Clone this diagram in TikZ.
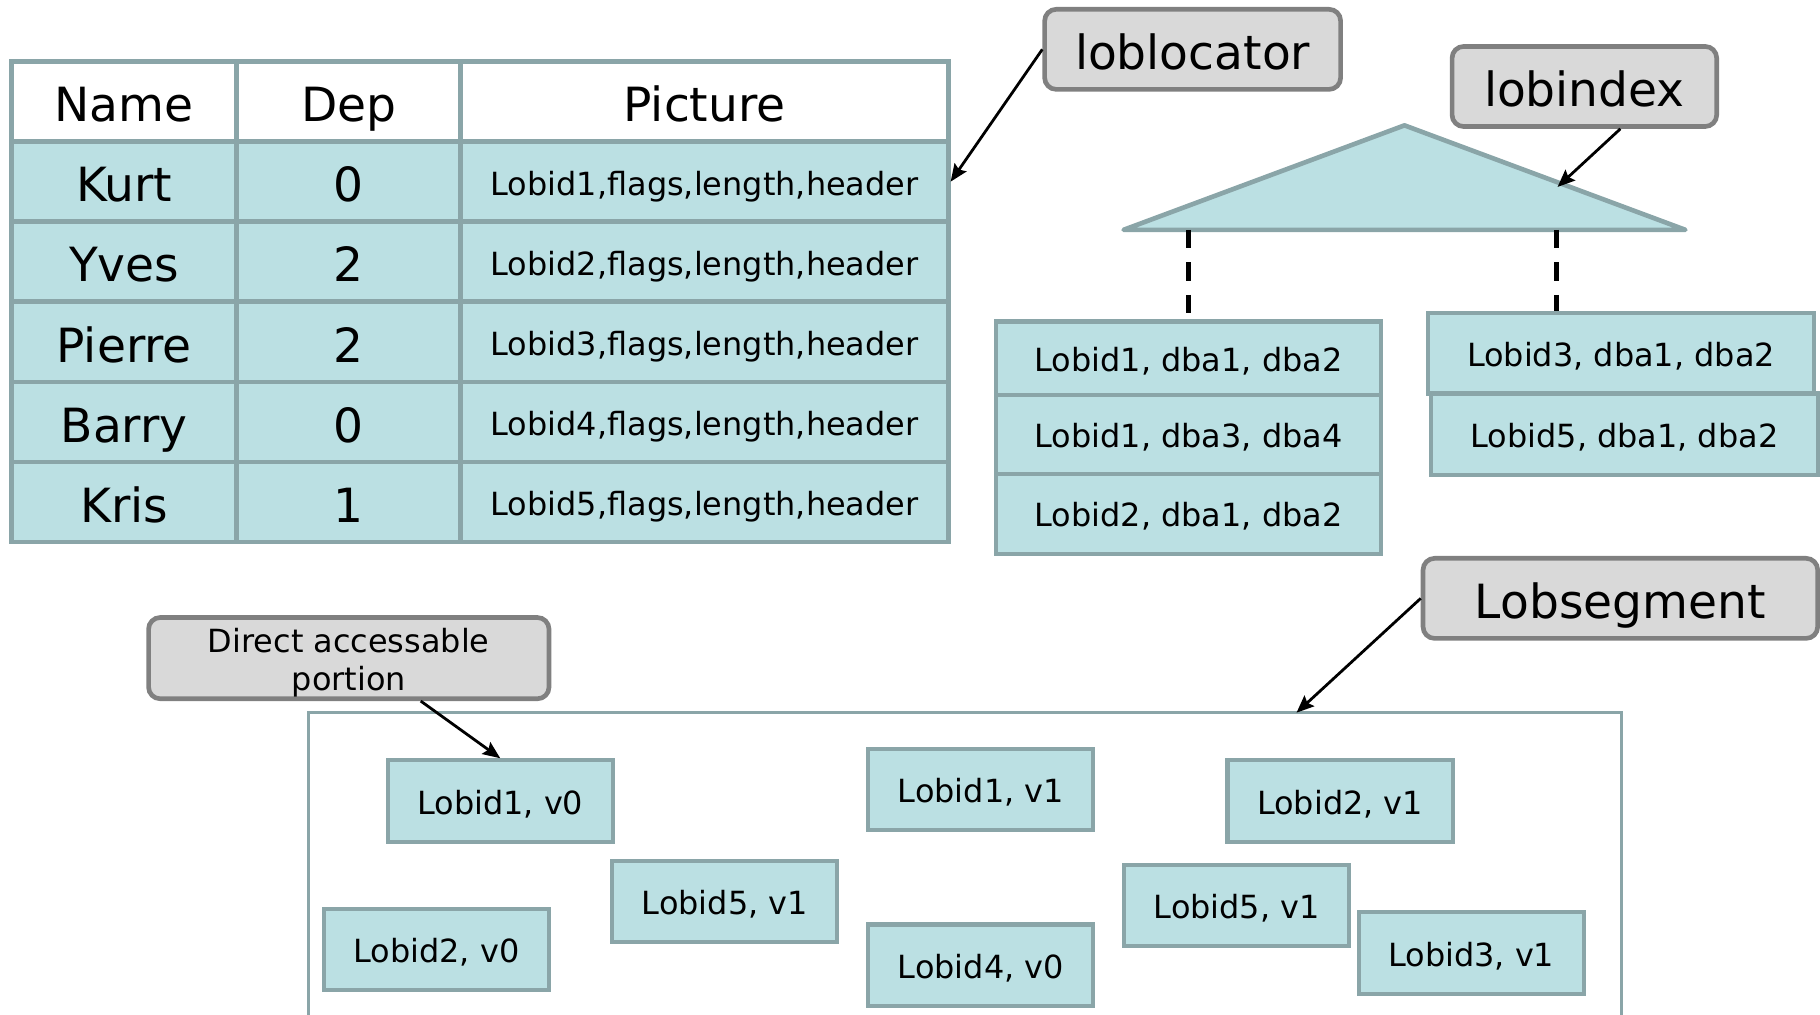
\documentclass[tikz,border=0pt]{standalone}
\usepackage{fontspec}
\setmainfont{DejaVu Sans}
\usetikzlibrary{arrows.meta,calc}
\definecolor{cellfill}{RGB}{187,224,227}
\definecolor{celledge}{RGB}{138,165,168}
\definecolor{notefill}{RGB}{217,217,217}
\definecolor{noteedge}{RGB}{128,128,128}

\begin{document}
\begin{tikzpicture}[x=0.5pt,y=-0.5pt,
  bigtext/.style={font=\fontsize{20.3pt}{24pt}\selectfont, text height=17.9pt, text depth=0.5pt},
  smalltext/.style={font=\fontsize{13.75pt}{16.5pt}\selectfont, text height=12pt, text depth=0.5pt},
  cell/.style={draw=celledge, line width=2pt, fill=cellfill, inner sep=0pt, minimum height=34.5pt},
  headcell/.style={cell, fill=white},
  record/.style={draw=celledge, line width=1.75pt, fill=cellfill, inner sep=0pt, smalltext},
  version/.style={record, minimum width=97pt, minimum height=35pt},
  note/.style={draw=noteedge, line width=2pt, fill=notefill, rounded corners=5pt, inner sep=0pt},
  pointer/.style={line width=1.2pt, -{Stealth[length=7.5pt,width=6.2pt,inset=1.2pt]}},
  tap/.style={line width=2pt, dash pattern=on 8pt off 6pt},
]
\useasboundingbox (0,0) rectangle (1568,874);

% --- table of names, dependants and locators
\node[headcell, bigtext, minimum width=97pt]   (hname) at (107,87.5)   {Name};
\node[headcell, bigtext, minimum width=96.5pt] (hdep)  at (300.5,87.5) {Dep};
\node[headcell, bigtext, minimum width=210pt]  (hpic)  at (607,87.5)   {Picture};
\foreach \who/\dep [count=\i] in {Kurt/0, Yves/2, Pierre/2, Barry/0, Kris/1} {
  \pgfmathsetmacro\yy{87.5+69*\i}
  \node[cell, bigtext, minimum width=97pt]   (name\i) at (107,\yy)   {\who};
  \node[cell, bigtext, minimum width=96.5pt] (dep\i)  at (300.5,\yy) {\dep};
  \node[cell, smalltext, minimum width=210pt] (pic\i) at (607,\yy)   {Lobid\i,flags,length,header};
}

% --- index tree
\coordinate (apex)  at (1210,108);
\coordinate (baseL) at (968,198);
\coordinate (baseR) at (1452,198);
\draw[draw=celledge, line width=2pt, line join=round, fill=cellfill] (apex) -- (baseR) -- (baseL) -- cycle;
\coordinate (tapL) at ($(baseL)!0.1157!(baseR)$);
\coordinate (tapR) at ($(baseL)!0.7707!(baseR)$);
\coordinate (idxhit) at ($(apex)!0.545!(baseR)+(0,4)$);

% --- index leaf entries
\node[record, minimum width=166pt, minimum height=31.5pt] (ls1) at (1024,308.5) {Lobid1, dba1, dba2};
\node[record, minimum width=166pt, minimum height=34pt]   (ls2) at (1024,374)   {Lobid1, dba3, dba4};
\node[record, minimum width=166pt, minimum height=34.5pt] (ls3) at (1024,442.5) {Lobid2, dba1, dba2};
\node[record, minimum width=166.5pt, minimum height=34.5pt] (rs1) at (1396.5,304.5) {Lobid3, dba1, dba2};
\node[record, minimum width=166.5pt, minimum height=35pt]   (rs2) at (1399.5,374)   {Lobid5, dba1, dba2};

\draw[tap] (tapL) -- (tapL |- ls1.north);
\draw[tap] (tapR) -- (tapR |- rs1.north);

% --- segment holding the versions
\coordinate (segBL) at (266,880);
\coordinate (segTL) at (266,614);
\coordinate (segTR) at (1397,614);
\coordinate (segBR) at (1397,880);
\coordinate (segin) at (1117,614);
\draw[celledge, line width=1.5pt] (segBL) -- (segTL) -- (segTR) -- (segBR);

\node[version] (v1) at (431,690)     {Lobid1, v0};
\node[version] (v2) at (845,680)     {Lobid1, v1};
\node[version] (v3) at (1154.5,690)  {Lobid2, v1};
\node[version] (v4) at (624.5,776.5) {Lobid5, v1};
\node[version] (v5) at (376,818)     {Lobid2, v0};
\node[version] (v6) at (845,831.5)   {Lobid4, v0};
\node[version] (v7) at (1065.5,780)  {Lobid5, v1};
\node[version] (v8) at (1267.5,821)  {Lobid3, v1};

% --- labels
\node[note, bigtext, minimum width=127.5pt, minimum height=34.5pt] (loblocator) at (1027.5,42.5) {loblocator};
\node[note, bigtext, minimum width=114pt, minimum height=34.5pt]   (lobindex)   at (1365,74.5)   {lobindex};
\node[note, bigtext, minimum width=170pt, minimum height=34.5pt]   (lobsegment) at (1396,515.5)  {Lobsegment};
\node[note, smalltext, align=center, text height=28pt, text depth=0pt, minimum width=172.5pt, minimum height=35pt] (direct) at (300.5,567) {Direct accessable\\portion};

\draw[pointer] (loblocator.west) -- (pic1.east);
\draw[pointer] ($(lobindex.south)+(31,0)$) -- (idxhit);
\draw[pointer] (lobsegment.west) -- (segin);
\draw[pointer] ($(direct.south)+(62,0)$) -- (v1.north);
\end{tikzpicture}
\end{document}
